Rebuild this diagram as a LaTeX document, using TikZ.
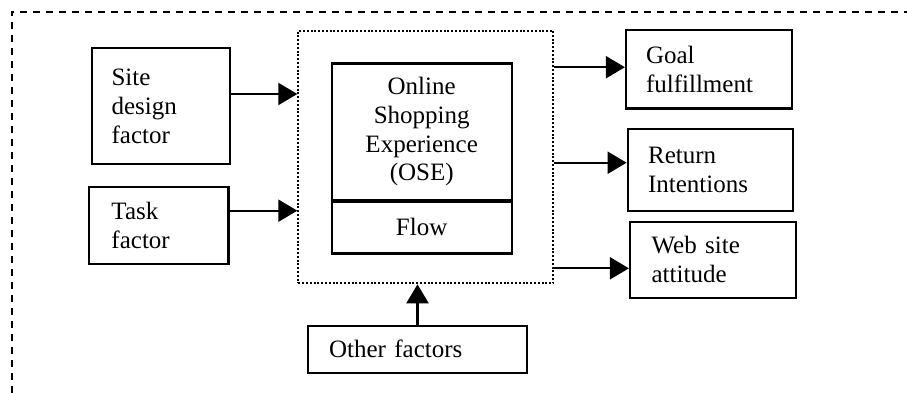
\documentclass[tikz,border=0pt]{standalone}
\usepackage{fontspec}
\setmainfont{Liberation Serif}
\usetikzlibrary{arrows.meta}

\tikzset{
  box/.style={draw, line width=1.1pt, rectangle, align=left, anchor=center,
    font=\fontsize{12.5pt}{14.5pt}\selectfont},
  cbox/.style={draw, line width=1.1pt, rectangle, align=center, anchor=center,
    inner sep=0pt, font=\fontsize{12.5pt}{14.3pt}\selectfont},
  arr/.style={line width=1.1pt, -{Triangle[length=9.5pt,width=11pt]}},
  frame/.style={draw, line width=1pt, dash pattern=on 1pt off 0.9pt,
    rectangle, inner sep=0pt},
  outer/.style={line width=1pt, dash pattern=on 3.3pt off 3.2pt}
}

\begin{document}
\begin{tikzpicture}[x=0.5pt,y=-0.5pt]
  \useasboundingbox (0,0) rectangle (907,393);

  % surrounding dashed border (top and left sides)
  \draw[outer] (12,393) -- (12,11.5) -- (907,11.5);

  % dotted frame around the experience block
  \node[frame, minimum width=127.5pt, minimum height=126.4pt] (frame) at (425.8,156.9) {};

  % experience block: OSE over Flow
  \node[cbox, minimum width=90pt, minimum height=68.3pt] (ose) at (421.7,131.7)
    {Online\\Shopping\\Experience\\(OSE)};
  \node[cbox, minimum width=90pt, minimum height=26.7pt] (flow) at (421.7,226.7) {Flow};
  \draw[line width=1.7pt] (ose.south west) -- (ose.south east);

  % input factors
  \node[box, inner xsep=10pt, text width=49.2pt, minimum height=58.2pt] (site) at (160.8,105.9)
    {Site\\design\\factor};
  \node[box, inner xsep=11.2pt, text width=47.3pt, minimum height=38.7pt] (task) at (158.8,225.3)
    {Task\\factor};
  \node[box, inner xsep=10.7pt, text width=88.4pt, minimum height=23.4pt] (other) at (417.5,349.3)
    {Other factors};

  % outcomes
  \node[box, inner xsep=10pt, text width=63pt, minimum height=39.2pt] (goal) at (709,69.2)
    {Goal\\fulfillment};
  \node[box, inner xsep=10.2pt, text width=62.4pt, minimum height=41pt] (return) at (710.5,170)
    {Return\\Intentions};
  \node[box, inner xsep=10.8pt, text width=61.4pt, minimum height=38pt] (web) at (713,259.7)
    {Web site\\attitude};

  % connectors into the frame
  \draw[arr] ([yshift=5.95pt]site.east) -- ([yshift=5.95pt]site.east -| frame.west);
  \draw[arr] ([yshift=7.3pt]task.east) -- ([yshift=7.3pt]task.east -| frame.west);
  \draw[arr] (other.north) -- (other.north |- frame.south);

  % connectors out of the frame
  \draw[arr] ([yshift=1pt]goal.west -| frame.east) -- ([yshift=1pt]goal.west);
  \draw[arr] ([yshift=3.65pt]return.west -| frame.east) -- ([yshift=3.65pt]return.west);
  \draw[arr] ([yshift=-4.3pt]web.west -| frame.east) -- ([yshift=-4.3pt]web.west);
\end{tikzpicture}
\end{document}
